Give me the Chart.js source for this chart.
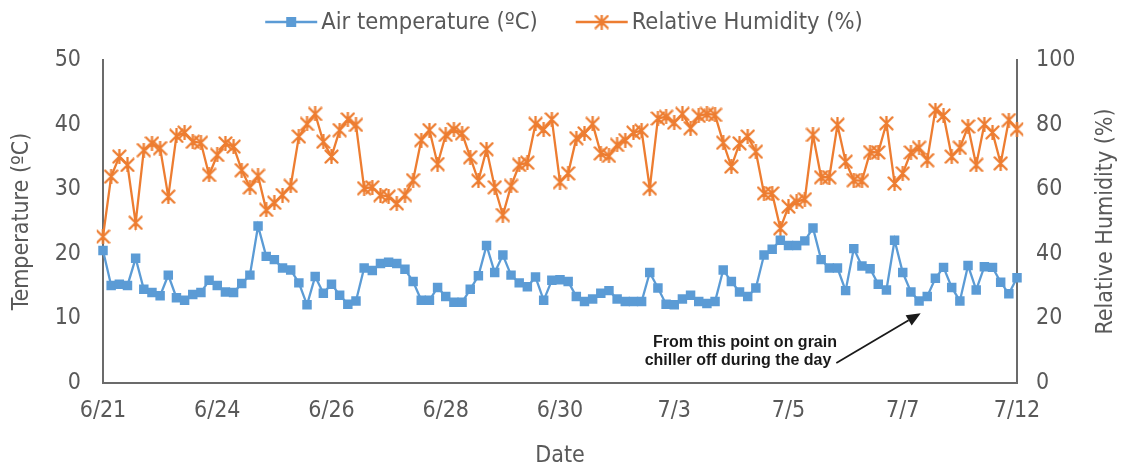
<!DOCTYPE html>
<html>
<head>
<meta charset="utf-8">
<script src="https://cdn.jsdelivr.net/npm/chart.js@4.4.1/dist/chart.umd.min.js"></script>
<style>
  html, body { margin: 0; padding: 0; background: #ffffff; }
  #wrap { width: 1123px; height: 466px; }
</style>
</head>
<body>
<div id="wrap"><canvas id="chart" width="1123" height="466"></canvas></div>
<script>
// Tick labels shown on the date axis, one every TICK_EVERY readings
const tickLabels = ['6/21', '6/24', '6/26', '6/28', '6/30', '7/3', '7/5', '7/7', '7/12'];
const TICK_EVERY = 14;

// Air temperature readings (°C)
const airTemp = [
  20.5, 15.1, 15.3, 15.1, 19.3, 14.5, 14.0, 13.5, 16.7, 13.2,
  12.8, 13.7, 14.0, 15.9, 15.1, 14.1, 14.0, 15.4, 16.7, 24.3,
  19.6, 19.1, 17.8, 17.5, 15.5, 12.1, 16.5, 13.9, 15.3, 13.6,
  12.2, 12.7, 17.8, 17.4, 18.5, 18.7, 18.5, 17.6, 15.7, 12.8,
  12.8, 14.8, 13.4, 12.5, 12.5, 14.5, 16.6, 21.3, 17.1, 19.8,
  16.7, 15.5, 14.9, 16.4, 12.8, 15.9, 16.0, 15.7, 13.4, 12.6,
  13.0, 13.9, 14.3, 13.0, 12.6, 12.6, 12.6, 17.1, 14.7, 12.2,
  12.1, 13.0, 13.6, 12.6, 12.3, 12.6, 17.5, 15.7, 14.1, 13.4,
  14.7, 19.8, 20.7, 22.1, 21.3, 21.3, 22.0, 24.0, 19.1, 17.8,
  17.8, 14.3, 20.8, 18.1, 17.7, 15.3, 14.4, 22.1, 17.1, 14.1,
  12.7, 13.4, 16.2, 17.9, 14.8, 12.7, 18.2, 14.4, 18.0, 17.9,
  15.6, 13.8, 16.3
];

// Relative humidity readings (%)
const relHumidity = [
  45.3, 63.9, 70.1, 67.5, 49.6, 72.1, 74.2, 72.7, 57.7, 76.5,
  77.5, 74.7, 74.4, 64.4, 70.6, 74.2, 73.2, 65.9, 60.6, 64.1,
  53.6, 55.8, 58.2, 61.0, 76.3, 80.2, 83.3, 74.7, 70.1, 78.3,
  81.6, 79.9, 60.3, 60.6, 58.2, 57.7, 55.6, 58.2, 62.8, 75.2,
  78.3, 67.8, 76.8, 78.5, 77.3, 69.9, 62.6, 72.4, 60.6, 52.0,
  61.0, 67.5, 68.2, 80.2, 78.5, 81.6, 62.2, 64.9, 75.8, 77.3,
  80.2, 71.1, 70.3, 73.7, 75.2, 77.5, 78.1, 60.3, 81.9, 82.4,
  80.6, 83.3, 78.9, 82.7, 83.3, 83.0, 74.4, 67.0, 74.2, 76.3,
  71.6, 58.7, 58.7, 47.9, 54.6, 56.1, 56.9, 76.8, 63.7, 63.7,
  79.9, 68.5, 62.8, 62.6, 71.5, 71.4, 80.4, 61.8, 64.9, 71.4,
  72.8, 69.0, 84.5, 82.8, 70.1, 72.8, 79.4, 67.5, 80.1, 77.6,
  68.0, 81.4, 78.6
];

// Category per reading; only every TICK_EVERY-th one carries a date label
const categories = airTemp.map((_, i) => (i % TICK_EVERY === 0 ? tickLabels[i / TICK_EVERY] : ''));

const BLUE = '#5B9BD5';
const ORANGE = '#ED7D31';
const AXIS_TEXT = '#595959';
const AXIS_LINE = '#6b6b6b';
const FONT = '"DejaVu Sans Condensed", "Liberation Sans", sans-serif';
const TEXT_SIZE = 23;

// Asterisk-style marker: an X crossed by a vertical stroke
function makeStar(color, size, lw) {
  const c = document.createElement('canvas');
  c.width = size; c.height = size;
  const g = c.getContext('2d');
  const m = size / 2, r = size / 2 - 1.5;
  g.strokeStyle = color;
  g.lineWidth = lw;
  g.lineCap = 'round';
  g.beginPath();
  g.moveTo(m - r, m - r); g.lineTo(m + r, m + r);
  g.moveTo(m + r, m - r); g.lineTo(m - r, m + r);
  g.moveTo(m, m - r - 0.8); g.lineTo(m, m + r + 0.8);
  g.stroke();
  return c;
}
const starMarker = makeStar(ORANGE, 15, 2.3);

// Legend, right-hand axis title and the chiller note
const overlayPlugin = {
  id: 'overlay',
  afterDraw(chart) {
    const ctx = chart.ctx;
    const area = chart.chartArea;

    // legend
    ctx.save();
    ctx.font = '23.5px ' + FONT;
    ctx.textBaseline = 'middle';
    ctx.textAlign = 'left';
    const iconW = 52, iconGap = 4, itemGap = 38;
    const items = chart.data.datasets.map(ds => ({ ds, w: ctx.measureText(ds.label).width }));
    const total = items.reduce((s, it) => s + iconW + iconGap + it.w, 0) + itemGap * (items.length - 1);
    let x = 564 - total / 2;
    const y = 22;
    items.forEach(it => {
      ctx.strokeStyle = it.ds.borderColor;
      ctx.lineWidth = 2.4;
      ctx.beginPath();
      ctx.moveTo(x, y); ctx.lineTo(x + iconW, y);
      ctx.stroke();
      const cx = x + iconW / 2;
      if (it.ds.pointStyle === 'rect') {
        ctx.fillStyle = it.ds.borderColor;
        ctx.fillRect(cx - 5, y - 5, 10, 10);
      } else {
        ctx.drawImage(starMarker, cx - starMarker.width / 2, y - starMarker.height / 2);
      }
      ctx.fillStyle = AXIS_TEXT;
      ctx.fillText(it.ds.label, x + iconW + iconGap, y + 1);
      x += iconW + iconGap + it.w + itemGap;
    });
    ctx.restore();

    // right axis title, reading bottom to top
    ctx.save();
    ctx.font = TEXT_SIZE + 'px ' + FONT;
    ctx.fillStyle = AXIS_TEXT;
    ctx.textAlign = 'center';
    ctx.textBaseline = 'middle';
    ctx.translate(1106, (area.top + area.bottom) / 2);
    ctx.rotate(-Math.PI / 2);
    ctx.fillText('Relative Humidity (%)', 0, 0);
    ctx.restore();

    // note with arrow
    const xs = chart.scales.x, ys = chart.scales.yT;
    const textX = xs.getPixelForValue(78.3);
    const line1 = 'From this point on grain';
    const line2 = 'chiller off during the day';
    ctx.save();
    ctx.font = 'bold 16px "Liberation Sans", Arial, sans-serif';
    ctx.fillStyle = '#1a1a1a';
    ctx.textAlign = 'center';
    ctx.textBaseline = 'middle';
    const y1 = ys.getPixelForValue(6.2), y2 = ys.getPixelForValue(3.4);
    ctx.fillText(line1, textX + 3, y1);
    ctx.fillText(line2, textX - 4, y2);
    const line2End = textX - 4 + ctx.measureText(line2).width / 2;
    const tipX = xs.getPixelForValue(100.2), tipY = ys.getPixelForValue(10.8);
    const tailX = line2End + 5, tailY = y2 + 2;
    const ang = Math.atan2(tipY - tailY, tipX - tailX);
    const headLen = 14, headW = 6;
    const bx = tipX - headLen * Math.cos(ang), by = tipY - headLen * Math.sin(ang);
    ctx.strokeStyle = '#1a1a1a';
    ctx.lineWidth = 1.8;
    ctx.beginPath();
    ctx.moveTo(tailX, tailY); ctx.lineTo(bx, by);
    ctx.stroke();
    ctx.beginPath();
    ctx.moveTo(tipX, tipY);
    ctx.lineTo(bx + headW * Math.sin(ang), by - headW * Math.cos(ang));
    ctx.lineTo(bx - headW * Math.sin(ang), by + headW * Math.cos(ang));
    ctx.closePath();
    ctx.fillStyle = '#1a1a1a';
    ctx.fill();
    ctx.restore();
  }
};

new Chart(document.getElementById('chart'), {
  type: 'line',
  data: {
    labels: categories,
    datasets: [
      {
        label: 'Air temperature (ºC)',
        data: airTemp,
        yAxisID: 'yT',
        borderColor: BLUE,
        backgroundColor: BLUE,
        borderWidth: 2.3,
        pointStyle: 'rect',
        pointRadius: 6.7,
        pointBorderWidth: 0,
        pointBackgroundColor: BLUE,
        tension: 0
      },
      {
        label: 'Relative Humidity (%)',
        data: relHumidity,
        yAxisID: 'yH',
        borderColor: ORANGE,
        backgroundColor: ORANGE,
        borderWidth: 2.3,
        pointStyle: starMarker,
        tension: 0
      }
    ]
  },
  options: {
    responsive: false,
    animation: false,
    devicePixelRatio: 1,
    layout: { padding: { top: 60, left: 0, right: 0, bottom: 0 } },
    plugins: {
      legend: { display: false },
      tooltip: { enabled: false }
    },
    scales: {
      x: {
        type: 'category',
        offset: false,
        grid: { display: false, drawTicks: false },
        border: { display: true, color: AXIS_LINE, width: 2 },
        ticks: {
          autoSkip: false,
          maxRotation: 0,
          minRotation: 0,
          padding: 14,
          color: AXIS_TEXT,
          font: { family: FONT, size: TEXT_SIZE },
          callback: function (v, i) { return categories[i]; }
        },
        title: {
          display: true,
          text: 'Date',
          color: AXIS_TEXT,
          font: { family: FONT, size: TEXT_SIZE },
          padding: { top: 0, bottom: -4 }
        },
        afterFit: s => { s.height = 83; }
      },
      yT: {
        position: 'left',
        min: 0,
        max: 50,
        grid: { display: false, drawTicks: false },
        border: { display: true, color: AXIS_LINE, width: 2 },
        ticks: {
          stepSize: 10,
          padding: 22,
          color: AXIS_TEXT,
          font: { family: FONT, size: TEXT_SIZE }
        },
        title: {
          display: true,
          text: 'Temperature (ºC)',
          color: AXIS_TEXT,
          font: { family: FONT, size: TEXT_SIZE },
          padding: { top: 8, bottom: 0 }
        },
        afterFit: s => { s.width = 103; }
      },
      yH: {
        position: 'right',
        min: 0,
        max: 100,
        grid: { display: false, drawTicks: false },
        border: { display: true, color: AXIS_LINE, width: 2 },
        ticks: {
          stepSize: 20,
          padding: 19,
          color: AXIS_TEXT,
          font: { family: FONT, size: TEXT_SIZE }
        },
        afterFit: s => { s.width = 106; }
      }
    }
  },
  plugins: [overlayPlugin]
});
</script>
</body>
</html>
